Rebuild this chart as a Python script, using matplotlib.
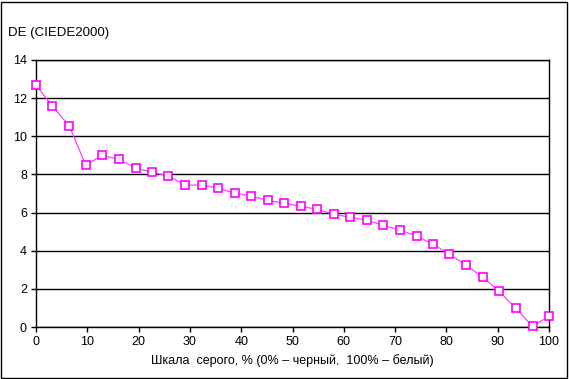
import matplotlib
matplotlib.use("Agg")
import matplotlib.pyplot as plt
from matplotlib.patches import Rectangle

plt.rcParams['font.family'] = ['Liberation Sans', 'DejaVu Sans']

gray_pct = [0, 3.2, 6.5, 9.7, 12.9, 16.1, 19.4, 22.6, 25.8, 29.0, 32.3, 35.5,
            38.7, 41.9, 45.2, 48.4, 51.6, 54.8, 58.1, 61.3, 64.5, 67.7, 71.0,
            74.2, 77.4, 80.6, 83.9, 87.1, 90.3, 93.5, 96.8, 100]
de_values = [12.68, 11.58, 10.53, 8.48, 9.00, 8.79, 8.34, 8.11, 7.92, 7.44, 7.44, 7.28,
             7.02, 6.87, 6.64, 6.49, 6.33, 6.17, 5.91, 5.75, 5.60, 5.33, 5.07,
             4.77, 4.34, 3.81, 3.23, 2.60, 1.87, 0.98, 0.04, 0.56]
x_ticks = [0, 10, 20, 30, 40, 50, 60, 70, 80, 90, 100]
y_ticks = [0, 2, 4, 6, 8, 10, 12, 14]

W, H = 569, 379
fig = plt.figure(figsize=(W / 100, H / 100), dpi=100)
fig.patch.set_facecolor('white')
ax = fig.add_axes([36 / W, 1 - 327 / H, (549 - 36) / W, (327 - 60) / H])

ax.plot(gray_pct, de_values, color='#FF40FF', linewidth=0.9, marker='s',
        markersize=6, markerfacecolor='white', markeredgecolor='#FF00FF',
        markeredgewidth=1.2, zorder=3, clip_on=False)

ax.set_xlim(0, 100)
ax.set_ylim(0, 14)
ax.set_xticks(x_ticks)
ax.set_yticks(y_ticks)
ax.yaxis.grid(True, color='black', linewidth=1.0)
ax.set_axisbelow(True)
for s in ax.spines.values():
    s.set_color('black')
    s.set_linewidth(1.0)
ax.tick_params(axis='both', direction='out', length=3.5, width=1.0,
               labelsize=9, colors='black', pad=3)

ax.set_xlabel('Шкала  серого, % (0% – черный,  100% – белый)', fontsize=9, labelpad=4)
fig.text(8 / W, 1 - 33 / H, 'DE (CIEDE2000)', fontsize=9.5, ha='left', va='center')

fig.patches.append(Rectangle((1 / W, 1 / H), (W - 3) / W, (H - 3) / H,
                             transform=fig.transFigure, fill=False,
                             edgecolor='black', linewidth=1.0))

fig.savefig('out.png', dpi=100, facecolor='white')
